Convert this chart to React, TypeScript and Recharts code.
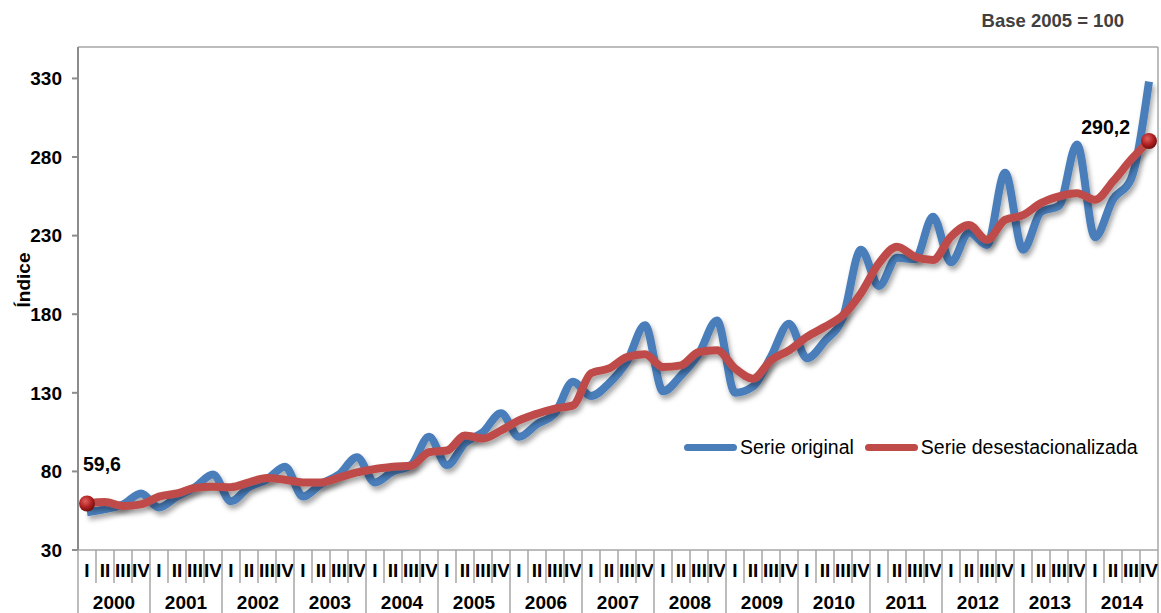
import React from 'react';
import {
  LineChart,
  Line,
  XAxis,
  YAxis,
  CartesianGrid,
  Legend,
  LabelList,
} from 'recharts';

const YEARS = ['2000', '2001', '2002', '2003', '2004', '2005', '2006', '2007', '2008', '2009', '2010', '2011', '2012', '2013', '2014'];
const QUARTERS = ['I', 'II', 'III', 'IV'];

// Serie original (quarterly index, base 2005 = 100)
const ORIGINAL = [
  54, 56, 59, 66,
  57, 64, 70, 78,
  61, 70, 75, 83,
  64, 72, 78, 89,
  73, 80, 84, 102,
  84, 98, 105, 117,
  102, 110, 117, 137,
  128, 136, 150, 173,
  131, 141, 155, 176,
  130, 134, 153, 174,
  152, 163, 178, 221,
  198, 216, 215, 242,
  213, 232, 224, 270,
  221, 245, 249, 288,
  229, 253, 266, 328,
];

// Serie desestacionalizada
const DESEST = [
  59.6, 60.5, 58, 59,
  64, 66, 69.5, 70.3,
  70, 73, 75.8, 74.7,
  73, 73, 76, 79.4,
  81.5, 83, 83.6, 92.2,
  93.3, 102.8, 101, 106,
  112.4, 116.7, 120, 122,
  142.4, 145.5, 152.8, 154.5,
  146.4, 147.5, 156, 157,
  145.5, 139, 150.7, 157,
  165.6, 172, 179.4, 193.4,
  212.5, 223, 216.6, 214.5,
  229.4, 236.8, 227.3, 240,
  243, 250.7, 255, 257,
  252.8, 264.5, 278.3, 290.2,
];

const Y_TICKS = [30, 80, 130, 180, 230, 280, 330];

const data = ORIGINAL.map((v, i) => ({
  period: `${YEARS[Math.floor(i / 4)]}-${QUARTERS[i % 4]}`,
  quarter: QUARTERS[i % 4],
  year: YEARS[Math.floor(i / 4)],
  original: v,
  desest: DESEST[i],
}));

const W = 1161;
const H = 613;
const LEFT = 78;
const RIGHT = 3;
const TOP = 47;
const BOTTOM = 63;
const PLOT_W = W - LEFT - RIGHT;
const PLOT_BOTTOM = H - BOTTOM;
const BAND = PLOT_W / data.length;

const BLUE = '#4A7EBB';
const RED = '#BE4B48';
const GRID = '#A6A6A6';
const AXIS = '#8C8C8C';
const FONT = '"Liberation Sans", Arial, sans-serif';

const QuarterTick = (props: any) => {
  const { x, index } = props;
  const row = data[index];
  const left = x - BAND / 2;
  const yearStart = index % 4 === 0;
  const last = index === data.length - 1;
  return (
    <g>
      <line x1={left} x2={left} y1={PLOT_BOTTOM} y2={yearStart ? H : PLOT_BOTTOM + 33} stroke={GRID} strokeWidth={1.5} />
      {last && <line x1={left + BAND} x2={left + BAND} y1={PLOT_BOTTOM} y2={H} stroke={GRID} strokeWidth={1.5} />}
      <text x={x} y={PLOT_BOTTOM + 27} textAnchor="middle" fontFamily={FONT} fontWeight="bold" fontSize={19} fill="#000">
        {row.quarter}
      </text>
      {yearStart && (
        <text x={left + BAND * 2} y={PLOT_BOTTOM + 59} textAnchor="middle" fontFamily={FONT} fontWeight="bold" fontSize={19} fill="#000">
          {row.year}
        </text>
      )}
    </g>
  );
};

const EndDot = (props: any) => {
  const { cx, cy, index } = props;
  if (index !== 0 && index !== data.length - 1) return <g key={`d${index}`} />;
  return <circle key={`d${index}`} cx={cx} cy={cy} r={8} fill="url(#redBall)" />;
};

const EndLabel = (props: any) => {
  const { x, y, index, value } = props;
  if (index !== 0 && index !== data.length - 1) return null;
  const text = String(value).replace('.', ',');
  const first = index === 0;
  return (
    <text
      x={first ? x - 4 : x - 19}
      y={first ? y - 32 : y - 7}
      textAnchor={first ? 'start' : 'end'}
      fontFamily={FONT}
      fontWeight="bold"
      fontSize={19.5}
      fill="#000"
    >
      {text}
    </text>
  );
};

const YTitle = () => (
  <text
    x={30}
    y={280}
    transform="rotate(-90, 30, 280)"
    textAnchor="middle"
    fontFamily={FONT}
    fontWeight="bold"
    fontSize={19}
    fill="#000"
  >
    Índice
  </text>
);

const LegendContent = () => (
  <div style={{ display: 'flex', alignItems: 'center', fontFamily: FONT, fontSize: 19.5, color: '#000', whiteSpace: 'nowrap' }}>
    <span style={{ display: 'inline-block', width: 53, height: 7, borderRadius: 4, background: BLUE, marginRight: 3 }} />
    <span style={{ marginRight: 11 }}>Serie original</span>
    <span style={{ display: 'inline-block', width: 53, height: 7, borderRadius: 4, background: RED, marginRight: 3 }} />
    <span>Serie desestacionalizada</span>
  </div>
);

const App: React.FC = () => {
  return (
    <div style={{ position: 'absolute', left: 0, top: 0, width: W, height: H, background: '#fff' }}>
      <div
        style={{
          position: 'absolute',
          left: 940,
          top: 10,
          width: 184,
          textAlign: 'right',
          fontFamily: FONT,
          fontWeight: 'bold',
          fontSize: 18.5,
          color: '#404040',
        }}
      >
        Base 2005 = 100
      </div>
      <LineChart width={W} height={H} data={data} margin={{ top: TOP, right: RIGHT, left: 0, bottom: 0 }}>
        <defs>
          <filter id="shadow" x="-5%" y="-5%" width="110%" height="120%">
            <feDropShadow dx="2" dy="4" stdDeviation="2.5" floodColor="#000" floodOpacity="0.35" />
          </filter>
          <radialGradient id="redBall" cx="40%" cy="35%" r="65%">
            <stop offset="0%" stopColor="#E06060" />
            <stop offset="60%" stopColor="#B02020" />
            <stop offset="100%" stopColor="#701010" />
          </radialGradient>
        </defs>
        <CartesianGrid
          horizontal
          vertical
          stroke={GRID}
          strokeWidth={1.5}
          verticalPoints={[W - RIGHT]}
          horizontalPoints={[TOP]}
          syncWithTicks
        />
        <XAxis
          dataKey="period"
          scale="band"
          interval={0}
          height={BOTTOM}
          tickLine={false}
          axisLine={{ stroke: GRID, strokeWidth: 1.5 }}
          tick={<QuarterTick />}
        />
        <YAxis
          domain={[30, 350]}
          ticks={Y_TICKS}
          width={LEFT}
          allowDataOverflow
          axisLine={{ stroke: AXIS, strokeWidth: 2 }}
          tickLine={{ stroke: AXIS, strokeWidth: 2 }}
          tickSize={6}
          tickMargin={10}
          tick={{ fill: '#000', fontSize: 19, fontWeight: 'bold', fontFamily: FONT }}
          label={{ content: <YTitle /> }}
        />
        <Legend
          layout="horizontal"
          verticalAlign="middle"
          align="center"
          content={<LegendContent />}
          wrapperStyle={{ left: 684, top: 436, width: 475, height: 24 }}
        />
        <Line
          type="monotone"
          dataKey="original"
          name="Serie original"
          stroke={BLUE}
          strokeWidth={8}
          dot={false}
          activeDot={false}
          filter="url(#shadow)"
          isAnimationActive={false}
        />
        <Line
          type="monotone"
          dataKey="desest"
          name="Serie desestacionalizada"
          stroke={RED}
          strokeWidth={8}
          dot={<EndDot />}
          activeDot={false}
          filter="url(#shadow)"
          isAnimationActive={false}
        >
          <LabelList dataKey="desest" content={<EndLabel />} />
        </Line>
      </LineChart>
    </div>
  );
};

export default App;
